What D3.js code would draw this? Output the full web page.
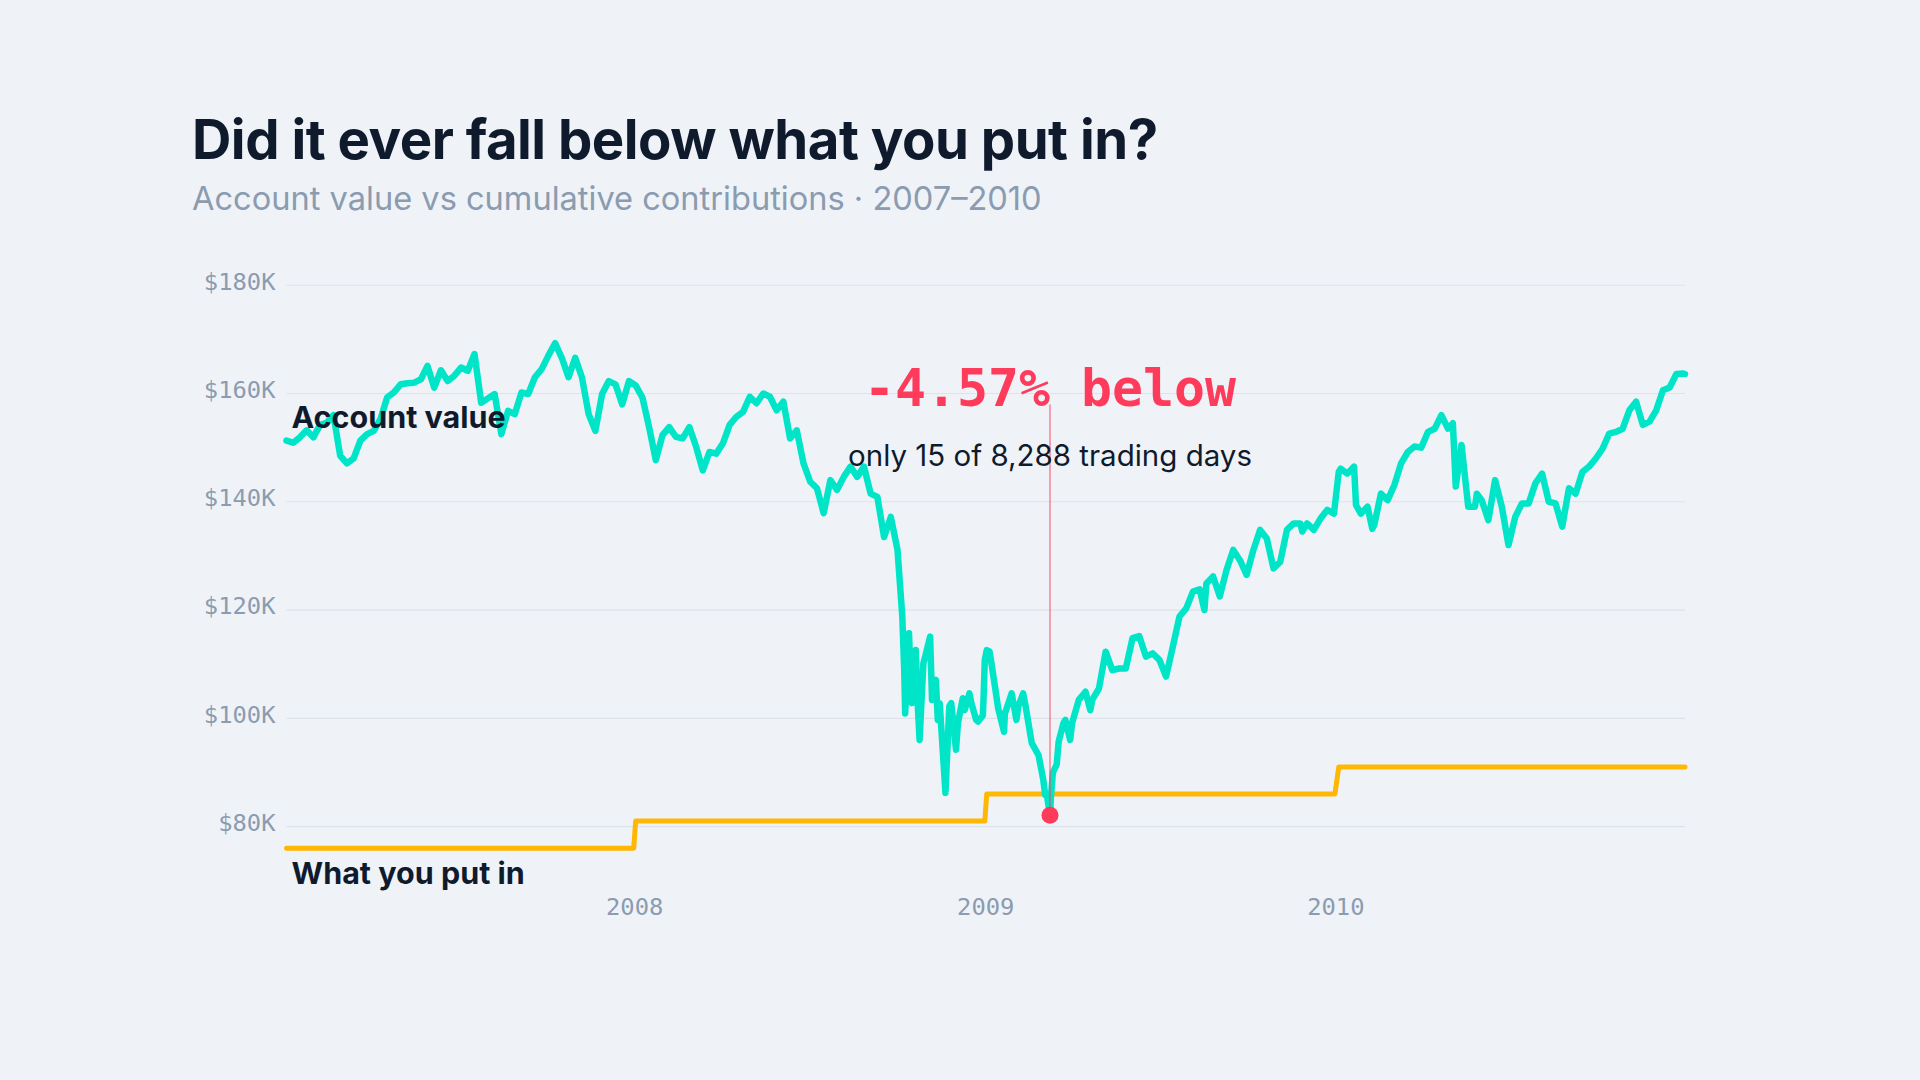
<!DOCTYPE html>
<html>
<head>
<meta charset="utf-8">
<script src="https://cdn.jsdelivr.net/npm/d3@7"></script>
<style>
  html, body { margin: 0; padding: 0; background: #eff3f8; }
  svg { display: block; }
</style>
</head>
<body>
<svg id="chart"></svg>
<script>
const accountSeries = [
  ["2007-01-03", 151.3], ["2007-01-10", 150.9], ["2007-01-17", 151.9], ["2007-01-24", 153.2], ["2007-01-31", 151.9],
  ["2007-02-07", 154.2], ["2007-02-14", 154.6], ["2007-02-21", 156.0], ["2007-02-28", 148.5],
  ["2007-03-07", 147.1], ["2007-03-14", 148.0], ["2007-03-21", 151.3], ["2007-03-28", 152.5],
  ["2007-04-04", 153.1], ["2007-04-11", 155.3], ["2007-04-18", 159.3], ["2007-04-25", 160.2],
  ["2007-05-02", 161.7], ["2007-05-09", 161.9], ["2007-05-16", 162.0], ["2007-05-23", 162.6], ["2007-05-30", 165.1],
  ["2007-06-06", 161.1], ["2007-06-13", 164.3], ["2007-06-20", 162.3], ["2007-06-27", 163.3],
  ["2007-07-04", 164.8], ["2007-07-11", 164.2], ["2007-07-18", 167.3], ["2007-07-25", 158.3],
  ["2007-08-01", 159.1], ["2007-08-08", 159.9], ["2007-08-15", 152.5], ["2007-08-22", 156.8], ["2007-08-29", 156.2],
  ["2007-09-05", 160.2], ["2007-09-12", 159.9], ["2007-09-19", 163.0], ["2007-09-26", 164.5],
  ["2007-10-03", 167.0], ["2007-10-10", 169.3], ["2007-10-17", 166.6], ["2007-10-24", 163.0], ["2007-10-31", 166.6],
  ["2007-11-07", 163.0], ["2007-11-14", 156.2], ["2007-11-21", 153.1], ["2007-11-28", 159.9],
  ["2007-12-05", 162.3], ["2007-12-12", 161.7], ["2007-12-19", 158.0], ["2007-12-26", 162.3],
  ["2008-01-02", 161.5], ["2008-01-09", 159.3], ["2008-01-16", 153.8], ["2008-01-23", 147.7], ["2008-01-30", 152.3],
  ["2008-02-06", 153.8], ["2008-02-13", 152.0], ["2008-02-20", 151.7], ["2008-02-27", 153.8],
  ["2008-03-05", 150.2], ["2008-03-12", 145.8], ["2008-03-19", 149.2], ["2008-03-26", 148.9],
  ["2008-04-02", 150.8], ["2008-04-09", 154.2], ["2008-04-16", 155.7], ["2008-04-23", 156.6], ["2008-04-30", 159.4],
  ["2008-05-07", 158.2], ["2008-05-14", 160.0], ["2008-05-21", 159.4], ["2008-05-28", 156.9],
  ["2008-06-04", 158.5], ["2008-06-11", 151.7], ["2008-06-18", 153.2], ["2008-06-25", 147.1],
  ["2008-07-02", 143.7], ["2008-07-09", 142.5], ["2008-07-16", 137.9], ["2008-07-23", 144.0], ["2008-07-30", 142.2],
  ["2008-08-06", 144.6], ["2008-08-13", 146.5], ["2008-08-20", 144.6], ["2008-08-27", 146.5],
  ["2008-09-03", 141.5], ["2008-09-10", 140.9], ["2008-09-17", 133.5], ["2008-09-24", 137.2],
  ["2008-10-01", 131.1], ["2008-10-06", 118.8], ["2008-10-08", 108.9], ["2008-10-09", 100.9], ["2008-10-13", 115.7],
  ["2008-10-15", 105.8], ["2008-10-16", 102.8], ["2008-10-20", 112.6], ["2008-10-22", 102.8], ["2008-10-24", 96.0],
  ["2008-10-28", 110.2], ["2008-10-30", 111.5],
  ["2008-11-04", 115.1], ["2008-11-06", 103.4], ["2008-11-10", 107.1], ["2008-11-12", 99.7], ["2008-11-14", 102.8],
  ["2008-11-20", 86.2], ["2008-11-24", 102.2], ["2008-11-26", 102.8],
  ["2008-12-01", 94.2], ["2008-12-03", 99.1], ["2008-12-08", 103.7], ["2008-12-10", 101.5], ["2008-12-15", 104.6],
  ["2008-12-17", 102.8], ["2008-12-22", 99.7], ["2008-12-24", 99.4], ["2008-12-29", 100.5], ["2008-12-30", 105.2],
  ["2008-12-31", 110.8],
  ["2009-01-02", 112.6], ["2009-01-05", 112.3], ["2009-01-07", 110.1], ["2009-01-14", 101.8], ["2009-01-20", 97.5],
  ["2009-01-21", 100.9], ["2009-01-28", 104.6],
  ["2009-02-02", 99.7], ["2009-02-04", 102.2], ["2009-02-09", 104.6], ["2009-02-11", 102.8], ["2009-02-18", 95.4],
  ["2009-02-25", 93.2],
  ["2009-03-02", 88.6], ["2009-03-04", 85.8], ["2009-03-06", 85.5], ["2009-03-09", 82.07], ["2009-03-10", 85.6],
  ["2009-03-12", 90.0], ["2009-03-16", 91.5], ["2009-03-18", 95.7], ["2009-03-23", 99.1], ["2009-03-25", 99.7],
  ["2009-03-30", 96.0],
  ["2009-04-01", 99.1], ["2009-04-08", 103.4], ["2009-04-15", 104.9], ["2009-04-20", 101.5], ["2009-04-22", 103.4],
  ["2009-04-29", 105.5],
  ["2009-05-06", 112.3], ["2009-05-13", 108.9], ["2009-05-20", 109.2], ["2009-05-27", 109.2],
  ["2009-06-03", 114.8], ["2009-06-10", 115.2], ["2009-06-17", 111.4], ["2009-06-24", 112.0],
  ["2009-07-01", 110.8], ["2009-07-08", 107.7], ["2009-07-15", 113.2], ["2009-07-22", 118.8], ["2009-07-29", 120.3],
  ["2009-08-05", 123.4], ["2009-08-12", 123.8], ["2009-08-17", 120.0], ["2009-08-19", 124.9], ["2009-08-26", 126.2],
  ["2009-09-02", 122.5], ["2009-09-09", 127.4], ["2009-09-16", 131.1], ["2009-09-23", 129.2], ["2009-09-30", 126.5],
  ["2009-10-07", 131.1], ["2009-10-14", 134.8], ["2009-10-21", 133.2], ["2009-10-28", 127.7],
  ["2009-11-04", 128.9], ["2009-11-11", 134.8], ["2009-11-18", 136.0], ["2009-11-25", 136.0], ["2009-11-27", 134.5],
  ["2009-12-02", 136.0], ["2009-12-09", 134.8], ["2009-12-16", 136.9], ["2009-12-23", 138.5], ["2009-12-30", 137.8],
  ["2010-01-04", 145.5], ["2010-01-06", 146.1], ["2010-01-13", 145.2], ["2010-01-20", 146.5], ["2010-01-22", 139.4],
  ["2010-01-27", 137.8],
  ["2010-02-03", 139.1], ["2010-02-08", 135.0], ["2010-02-10", 135.7], ["2010-02-17", 141.5], ["2010-02-24", 140.3],
  ["2010-03-03", 143.1], ["2010-03-10", 147.1], ["2010-03-17", 149.2], ["2010-03-24", 150.2], ["2010-03-31", 150.0],
  ["2010-04-07", 152.9], ["2010-04-14", 153.5], ["2010-04-21", 156.0], ["2010-04-28", 153.5],
  ["2010-05-03", 154.5], ["2010-05-06", 142.8], ["2010-05-12", 150.5], ["2010-05-19", 139.1], ["2010-05-26", 139.1],
  ["2010-05-28", 141.5],
  ["2010-06-02", 140.3], ["2010-06-09", 136.6], ["2010-06-16", 144.0], ["2010-06-23", 139.1], ["2010-06-30", 132.0],
  ["2010-07-07", 137.2], ["2010-07-14", 139.7], ["2010-07-21", 139.7], ["2010-07-28", 143.4],
  ["2010-08-04", 145.2], ["2010-08-11", 140.0], ["2010-08-18", 139.7], ["2010-08-25", 135.4],
  ["2010-09-01", 142.5], ["2010-09-08", 141.5], ["2010-09-15", 145.5], ["2010-09-22", 146.5], ["2010-09-29", 148.0],
  ["2010-10-06", 149.8], ["2010-10-13", 152.6], ["2010-10-20", 152.9], ["2010-10-27", 153.5],
  ["2010-11-03", 156.9], ["2010-11-10", 158.5], ["2010-11-17", 154.2], ["2010-11-24", 154.8],
  ["2010-12-01", 156.9], ["2010-12-08", 160.6], ["2010-12-15", 161.1], ["2010-12-22", 163.6], ["2010-12-29", 163.7],
  ["2010-12-31", 163.6]
];

// cumulative contributions, $K
const contributionDates = ["2007-01-03", "2007-12-31", "2008-01-02", "2008-12-31", "2009-01-02", "2009-12-31", "2010-01-04", "2010-12-31"];
const contributionValues = [76, 76, 81, 81, 86, 86, 91, 91];

const yTicks = [80, 100, 120, 140, 160, 180];
const yDomain = [75, 185];

const troughDate = "2009-03-09";
const troughValue = 82.07;
const troughLabel = "-4.57% below";
const troughNote = "only 15 of 8,288 trading days";

const titleText = "Did it ever fall below what you put in?";
const subtitleText = "Account value vs cumulative contributions \u00b7 2007\u20132010";
const accountLabel = "Account value";
const contribLabel = "What you put in";

class ContributionChart {
  margin = { top: 258.2, right: 235, bottom: 226.4, left: 286.5 }

  constructor(svg, width = 1920, height = 1080) {
    this.svg = d3.select(svg);
    this.fullWidth = width;
    this.fullHeight = height;
    this.width = width - this.margin.left - this.margin.right;
    this.height = height - this.margin.top - this.margin.bottom;
  }

  initialize() {
    const parse = d3.timeParse("%Y-%m-%d");
    this.account = accountSeries.map(([d, v]) => ({ date: parse(d), value: v }));
    this.contrib = contributionDates.map((d, i) => ({ date: parse(d), value: contributionValues[i] }));
    this.trough = { date: parse(troughDate), value: troughValue };

    this.svg
      .attr("width", this.fullWidth)
      .attr("height", this.fullHeight)
      .style("background", "#eff3f8");

    this.svg.append("text")
      .attr("x", 192)
      .attr("y", 159)
      .attr("fill", "#0f1b2d")
      .style("font-family", "Inter, 'DejaVu Sans', sans-serif")
      .style("font-weight", 700)
      .style("font-size", "54.5px")
      .style("letter-spacing", "-0.5px")
      .text(titleText);

    this.svg.append("text")
      .attr("x", 192)
      .attr("y", 210)
      .attr("fill", "#8b9bb0")
      .style("font-family", "Inter, 'DejaVu Sans', sans-serif")
      .style("font-size", "32.6px")
      .text(subtitleText);

    this.container = this.svg.append("g")
      .attr("transform", `translate(${this.margin.left}, ${this.margin.top})`);

    this.x = d3.scaleTime()
      .domain(d3.extent(this.account, d => d.date))
      .range([0, this.width]);
    this.y = d3.scaleLinear()
      .domain(yDomain)
      .range([this.height, 0]);
  }

  // step lookup: contribution in force on a given date
  contribAt(date) {
    const i = d3.bisector(d => d.date).right(this.contrib, date) - 1;
    return this.contrib[Math.max(0, i)].value;
  }

  update() {
    const x = this.x, y = this.y;
    const mono = "'DejaVu Sans Mono', 'Liberation Mono', monospace";
    const sans = "Inter, 'DejaVu Sans', sans-serif";

    // grid + y labels
    this.container.selectAll("line.grid")
      .data(yTicks)
      .join("line")
      .attr("class", "grid")
      .attr("x1", 0)
      .attr("x2", this.width)
      .attr("y1", d => y(d))
      .attr("y2", d => y(d))
      .attr("stroke", "#dde3ea")
      .attr("stroke-width", 1.2);

    this.container.selectAll("text.ylabel")
      .data(yTicks)
      .join("text")
      .attr("class", "ylabel")
      .attr("x", -11)
      .attr("y", d => y(d) - 4)
      .attr("dy", "0.35em")
      .attr("text-anchor", "end")
      .attr("fill", "#8b9bb0")
      .style("font-family", mono)
      .style("font-size", "23.8px")
      .text(d => `$${d}K`);

    this.container.selectAll("text.xlabel")
      .data(x.ticks(d3.timeYear.every(1)))
      .join("text")
      .attr("class", "xlabel")
      .attr("x", d => x(d))
      .attr("y", this.height + 61)
      .attr("text-anchor", "middle")
      .attr("fill", "#8b9bb0")
      .style("font-family", mono)
      .style("font-size", "23.8px")
      .text(d3.timeFormat("%Y"));

    // shaded gap where the account sits under contributions
    const gap = d3.area()
      .x(d => x(d.date))
      .y0(d => y(this.contribAt(d.date)))
      .y1(d => y(Math.min(d.value, this.contribAt(d.date))));
    this.container.append("path")
      .datum(this.account)
      .attr("d", gap)
      .attr("fill", "#6f7f8c")
      .attr("opacity", 0.75);

    this.container.append("path")
      .datum(this.contrib)
      .attr("d", d3.line().x(d => x(d.date)).y(d => y(d.value)))
      .attr("fill", "none")
      .attr("stroke", "#ffb703")
      .attr("stroke-width", 5)
      .attr("stroke-linejoin", "round")
      .attr("stroke-linecap", "round");

    this.container.append("path")
      .datum(this.account)
      .attr("d", d3.line().x(d => x(d.date)).y(d => y(d.value)))
      .attr("fill", "none")
      .attr("stroke", "#00e5c8")
      .attr("stroke-width", 6.5)
      .attr("stroke-linejoin", "round")
      .attr("stroke-linecap", "round");

    // trough annotation
    const tx = x(this.trough.date);
    const labelY = 148.3;
    this.container.append("line")
      .attr("x1", tx)
      .attr("x2", tx)
      .attr("y1", labelY - 2)
      .attr("y2", y(this.trough.value))
      .attr("stroke", "#ff3b5c")
      .attr("stroke-opacity", 0.6)
      .attr("stroke-width", 1.5);

    this.container.append("circle")
      .attr("cx", tx)
      .attr("cy", y(this.trough.value))
      .attr("r", 8.5)
      .attr("fill", "#ff3b5c");

    this.container.append("text")
      .attr("x", tx)
      .attr("y", labelY)
      .attr("text-anchor", "middle")
      .attr("fill", "#ff3b5c")
      .style("font-family", mono)
      .style("font-weight", 700)
      .style("font-size", "51.5px")
      .text(troughLabel);

    this.container.append("text")
      .attr("x", tx)
      .attr("y", labelY + 60)
      .attr("text-anchor", "middle")
      .attr("fill", "#0f1b2d")
      .style("font-family", sans)
      .style("font-size", "29.5px")
      .text(troughNote);

    // series labels
    const first = this.account[0], firstC = this.contrib[0];
    this.container.append("text")
      .attr("x", x(first.date) + 5)
      .attr("y", y(first.value) - 13)
      .attr("fill", "#0f1b2d")
      .style("font-family", sans)
      .style("font-weight", 700)
      .style("font-size", "30.5px")
      .text(accountLabel);

    this.container.append("text")
      .attr("x", x(firstC.date) + 5)
      .attr("y", y(firstC.value) + 36)
      .attr("fill", "#0f1b2d")
      .style("font-family", sans)
      .style("font-weight", 700)
      .style("font-size", "30.5px")
      .text(contribLabel);
  }
}

const chart = new ContributionChart(document.getElementById("chart"));
chart.initialize();
chart.update();
</script>
</body>
</html>
